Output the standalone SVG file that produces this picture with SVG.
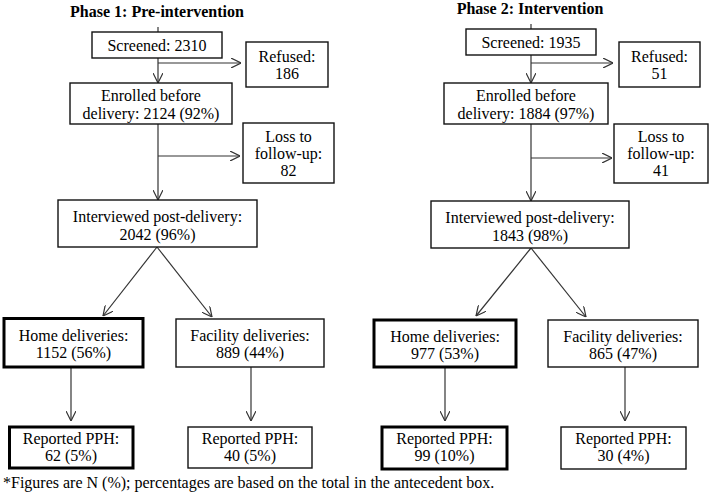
<svg xmlns="http://www.w3.org/2000/svg" width="709" height="501" viewBox="0 0 709 501">
<defs>
<marker id="ah" viewBox="0 0 10 10" markerWidth="10" markerHeight="10" markerUnits="userSpaceOnUse" refX="10" refY="5" orient="auto">
<path d="M0,0 L10,5 L0,10" fill="none" stroke="#333" stroke-width="1.2"/>
</marker>
</defs>
<style>
text{font-family:'Liberation Serif','Times New Roman',serif;font-size:16px;fill:#000;text-anchor:middle}
.title{font-weight:bold}
.note{text-anchor:start}
.box{fill:#fff;stroke:#111;stroke-width:1.4}
.thick{fill:#fff;stroke:#000;stroke-width:3}
.c{fill:none;stroke:#333;stroke-width:1.2}
.a{marker-end:url(#ah)}
</style>
<rect width="709" height="501" fill="#fff"/>
<text class="title" x="157" y="17">Phase 1: Pre-intervention</text>
<text class="title" x="530" y="14">Phase 2: Intervention</text>
<g id="connectors">
<path class="c" d="M158,27 V32"/>
<path class="c a" d="M158,58 V83"/>
<path class="c a" d="M158,63 H241"/>
<path class="c a" d="M158,124 V200"/>
<path class="c a" d="M158,156 H240"/>
<path class="c a" d="M157,247 L103,316"/>
<path class="c a" d="M157,247 L212,317"/>
<path class="c a" d="M71,367 V421"/>
<path class="c a" d="M251,367 V421"/>
<path class="c" d="M531,24 V29"/>
<path class="c a" d="M531,55 V83"/>
<path class="c a" d="M531,63 H613"/>
<path class="c a" d="M531,124 V201"/>
<path class="c a" d="M531,158 H612"/>
<path class="c a" d="M531,248 L476,316"/>
<path class="c a" d="M531,248 L586,317"/>
<path class="c a" d="M445,367 V421"/>
<path class="c a" d="M625,367 V421"/>
</g>
<g id="p1-screened"><rect class="box" x="92" y="32" width="130" height="26"/><text x="157" y="50.5">Screened: 2310</text></g>
<g id="p1-refused"><rect class="box" x="246" y="42" width="82" height="45"/><text x="287" y="61.5">Refused:</text><text x="287" y="78.5">186</text></g>
<g id="p1-enrolled"><rect class="box" x="70" y="83" width="162" height="41"/><text x="151" y="100.5">Enrolled before</text><text x="151" y="119">delivery: 2124 (92%)</text></g>
<g id="p1-loss"><rect class="box" x="243" y="123" width="91" height="60"/><text x="288.5" y="141.5">Loss to</text><text x="288.5" y="158.5">follow-up:</text><text x="288.5" y="175.5">82</text></g>
<g id="p1-interviewed"><rect class="box" x="58" y="200" width="199" height="47"/><text x="157.5" y="221.5">Interviewed post-delivery:</text><text x="157.5" y="239.5">2042 (96%)</text></g>
<g id="p1-home"><rect class="thick" x="4" y="318.5" width="139" height="48.5"/><text x="73.5" y="340.5">Home deliveries:</text><text x="73.5" y="357.5">1152 (56%)</text></g>
<g id="p1-facility"><rect class="box" x="176" y="319" width="148" height="48"/><text x="250" y="340.5">Facility deliveries:</text><text x="250" y="357.5">889 (44%)</text></g>
<g id="p1-pph-home"><rect class="thick" x="9.5" y="427" width="123.5" height="41"/><text x="71" y="443.5">Reported PPH:</text><text x="71" y="460.5">62 (5%)</text></g>
<g id="p1-pph-facility"><rect class="box" x="188" y="427" width="124" height="41"/><text x="250" y="443.5">Reported PPH:</text><text x="250" y="460.5">40 (5%)</text></g>
<g id="p2-screened"><rect class="box" x="466" y="29" width="130" height="26"/><text x="531" y="47.5">Screened: 1935</text></g>
<g id="p2-refused"><rect class="box" x="619" y="42" width="81" height="45"/><text x="659.5" y="61.5">Refused:</text><text x="659.5" y="78.5">51</text></g>
<g id="p2-enrolled"><rect class="box" x="444" y="83" width="164" height="41"/><text x="526" y="100.5">Enrolled before</text><text x="526" y="119">delivery: 1884 (97%)</text></g>
<g id="p2-loss"><rect class="box" x="614" y="124" width="94" height="59"/><text x="661" y="141.5">Loss to</text><text x="661" y="158.5">follow-up:</text><text x="661" y="175.5">41</text></g>
<g id="p2-interviewed"><rect class="box" x="431" y="201" width="198" height="47"/><text x="530" y="222.5">Interviewed post-delivery:</text><text x="530" y="240.5">1843 (98%)</text></g>
<g id="p2-home"><rect class="thick" x="374" y="320" width="142" height="47"/><text x="445" y="341.5">Home deliveries:</text><text x="445" y="358.5">977 (53%)</text></g>
<g id="p2-facility"><rect class="box" x="548" y="320" width="150" height="47"/><text x="623" y="341.5">Facility deliveries:</text><text x="623" y="358.5">865 (47%)</text></g>
<g id="p2-pph-home"><rect class="thick" x="382" y="427" width="125" height="42"/><text x="444.5" y="444">Reported PPH:</text><text x="444.5" y="461">99 (10%)</text></g>
<g id="p2-pph-facility"><rect class="box" x="561" y="427" width="125" height="42"/><text x="623.5" y="444">Reported PPH:</text><text x="623.5" y="461">30 (4%)</text></g>
<text class="note" x="3" y="488">*Figures are N (%); percentages are based on the total in the antecedent box.</text>
</svg>
